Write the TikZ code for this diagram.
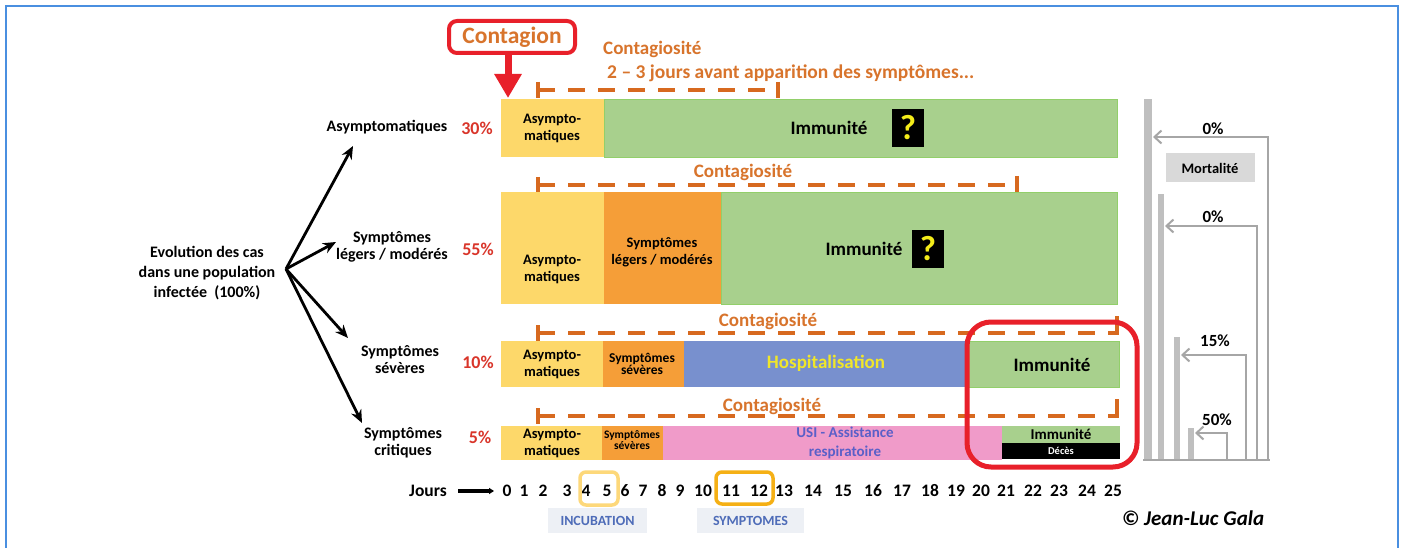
\documentclass[tikz,border=0pt]{standalone}
\usepackage{fontspec}
\setmainfont{Carlito}
\usetikzlibrary{arrows.meta}
\definecolor{frameblue}{HTML}{4A8FE0}
\definecolor{byellow}{HTML}{FDD86A}
\definecolor{borange}{HTML}{F59E38}
\definecolor{bgreen}{HTML}{A8D08D}
\definecolor{bgreenline}{HTML}{92CF6A}
\definecolor{bblue}{HTML}{7890CE}
\definecolor{bpink}{HTML}{F09BC9}
\definecolor{dashor}{HTML}{D7691F}
\definecolor{txtor}{HTML}{D8742C}
\definecolor{pctred}{HTML}{D9352A}
\definecolor{cred}{HTML}{E8202A}
\definecolor{qyellow}{HTML}{F4EC1A}
\definecolor{hospy}{HTML}{F0E62A}
\definecolor{usiblue}{HTML}{5A5FC8}
\definecolor{mgray}{HTML}{A6A6A6}
\definecolor{mbar}{HTML}{BFBFBF}
\definecolor{mbox}{HTML}{D9D9D9}
\definecolor{incbg}{HTML}{EDF0F5}
\definecolor{incblue}{HTML}{4E6CB8}
\definecolor{ylight}{HTML}{FDD87A}
\definecolor{ydark}{HTML}{F5B015}
\tikzset{
  lbl/.style={font=\fontsize{16}{17}\selectfont\bfseries, align=center, inner sep=0pt},
  pct/.style={font=\fontsize{18}{20}\selectfont\bfseries, text=pctred, inner sep=0pt},
  intxt/.style={font=\fontsize{14.5}{17}\selectfont\bfseries, align=center, inner sep=0pt},
  smalltxt/.style={font=\fontsize{13.5}{10.5}\selectfont\bfseries, align=center, inner sep=0pt},
  tinytxt/.style={font=\fontsize{11.5}{10.5}\selectfont\bfseries, align=center, inner sep=0pt},
  bigtxt/.style={font=\fontsize{19}{21}\selectfont\bfseries, align=center, inner sep=0pt},
  contag/.style={font=\fontsize{19}{21}\selectfont\bfseries, text=txtor, inner sep=0pt},
  dashl/.style={draw=dashor, line width=4pt, dash pattern=on 17pt off 13pt},
  tickl/.style={draw=dashor, line width=4pt},
  treearrow/.style={draw=black, line width=2.8pt, -{Stealth[length=13pt,width=11pt]}},
  marrow/.style={draw=mgray, line width=2pt, -{Straight Barb[length=7pt,width=13pt]}},
  mlabel/.style={font=\fontsize{17}{19}\selectfont\bfseries, inner sep=0pt},
  day/.style={font=\fontsize{17.5}{19}\selectfont\bfseries, inner sep=0pt},
  qbox/.style={fill=black, minimum width=32pt, minimum height=38pt, inner sep=0pt, text=qyellow, font=\fontsize{35}{35}\selectfont\bfseries},
  daybox/.style={draw, line width=3.5pt, rounded corners=6pt, inner sep=0pt},
  phase/.style={fill=incbg, inner sep=0pt, text=incblue, font=\fontsize{14}{16}\selectfont\bfseries}
}
\begin{document}
\begin{tikzpicture}[x=1pt,y=-1pt]
\useasboundingbox (0,0) rectangle (1405,548);
\fill[white] (0,0) rectangle (1405,548);
% frame
\draw[frameblue, line width=2pt] (6,548) -- (6,6) -- (1398,6) -- (1398,548);

% ---------- left tree ----------
\node[lbl, align=center, font=\fontsize{16}{20}\selectfont\bfseries] (evol) at (207,273) {Evolution des cas\\dans une population\\infectée\ \ (100\%)};
\coordinate (root) at (286,269);
\node[lbl] (asy) at (387,127) {Asymptomatiques};
\node[lbl] (leg) at (392,247) {Symptômes\\légers / modérés};
\node[lbl] (sev) at (400,360) {Symptômes\\sévères};
\node[lbl] (cri) at (403,443) {Symptômes\\critiques};
\coordinate (e1) at (353,146);
\coordinate (e2) at (336,242);
\coordinate (e3) at (348,338);
\coordinate (e4) at (362,423);
\draw[treearrow] (root) -- (e1);
\draw[treearrow] (root) -- (e2);
\draw[treearrow] (root) -- (e3);
\draw[treearrow] (root) -- (e4);
\node[pct] (p1) at (477,128) {30\%};
\node[pct] (p2) at (478,249) {55\%};
\node[pct] (p3) at (478,362) {10\%};
\node[pct] (p4) at (480,437) {5\%};

% ---------- contagion ----------
\node[draw=cred, line width=4pt, rounded corners=8pt, minimum width=126pt, minimum height=32pt, inner sep=0pt,
      text=txtor, font=\fontsize{23.5}{25}\selectfont\bfseries] (contagion) at (512,37) {Contagion};
\coordinate (ctip) at (508,98);
\draw[cred, line width=7pt, -{Triangle[length=24pt,width=26pt]}] (ctip |- contagion.south) -- (ctip);
\node[contag, anchor=west] (c1a) at (603,49) {Contagiosité};
\node[contag, anchor=west, font=\fontsize{19.5}{21}\selectfont\bfseries] (c1b) at (607,73) {2 -- 3 jours avant apparition des symptômes...};

% ---------- row 1 ----------
\fill[byellow] (501,99) rectangle (604,157);
\fill[bgreen] (604,99) rectangle (1117,157);
\draw[bgreenline, line width=0.8pt] (604,99) rectangle (1117,157);
\node[intxt] (r1a) at (552,128) {Asympto-\\matiques};
\node[bigtxt] (r1i) at (829,128) {Immunité};
\node[qbox] (q1) at (908,128) {?};
\draw[dashl] (538,90) -- (778,90);
\draw[tickl] (538,82) -- (538,98);
\draw[tickl] (778,82) -- (778,98);

% ---------- row 2 ----------
\node[contag] (c2) at (743,172) {Contagiosité};
\draw[dashl] (538,185) -- (1017,185);
\draw[tickl] (538,177) -- (538,193);
\draw[tickl] (1017,176) -- (1017,192);
\fill[byellow] (501,192) rectangle (604,304);
\fill[borange] (604,192) rectangle (721,304);
\fill[bgreen] (721,192) rectangle (1117,304);
\draw[bgreenline, line width=0.8pt] (721,192) rectangle (1117,304);
\node[intxt] (r2a) at (552,269) {Asympto-\\matiques};
\node[intxt] (r2s) at (662,252) {Symptômes\\légers / modérés};
\node[bigtxt] (r2i) at (864,249) {Immunité};
\node[qbox] (q2) at (928,249) {?};

% ---------- row 3 ----------
\node[contag] (c3) at (768,321) {Contagiosité};
\draw[dashl] (538,333) -- (1117,333);
\draw[tickl] (538,325) -- (538,341);
\draw[tickl] (1117,316) -- (1117,335);
\fill[byellow] (501,341) rectangle (603,387);
\fill[borange] (603,341) rectangle (684,387);
\fill[bblue] (684,341) rectangle (967,387);
\fill[bgreen] (967,341) rectangle (1119,387);
\draw[bgreenline, line width=0.8pt] (967,341) rectangle (1119,387);
\node[intxt] (r3a) at (552,364) {Asympto-\\matiques};
\node[smalltxt] (r3s) at (642,364) {Symptômes\\sévères};
\node[bigtxt, text=hospy] (r3h) at (826,363) {Hospitalisation};
\node[bigtxt] (r3i) at (1052,365) {Immunité};

% ---------- row 4 ----------
\node[contag] (c4) at (772,406) {Contagiosité};
\draw[dashl] (538,416) -- (1117,416);
\draw[tickl] (538,408) -- (538,424);
\draw[tickl] (1117,399) -- (1117,418);
\fill[byellow] (501,426) rectangle (602,460);
\fill[borange] (602,426) rectangle (663,460);
\fill[bpink] (663,426) rectangle (1002,460);
\fill[bgreen] (1002,426) rectangle (1120,443);
\fill[black] (1002,443) rectangle (1120,459);
\node[intxt] (r4a) at (552,443) {Asympto-\\matiques};
\node[tinytxt] (r4s) at (632,440) {Symptômes\\sévères};
\node[intxt, font=\fontsize{15}{19}\selectfont\bfseries, text=usiblue] (r4u) at (845,443) {USI - Assistance\\respiratoire};
\node[intxt, font=\fontsize{15}{17}\selectfont\bfseries] (r4i) at (1061,434) {Immunité};
\node[intxt, font=\fontsize{10.5}{12}\selectfont\bfseries, text=white] (r4d) at (1061,451) {Décès};

% red highlight
\draw[cred, line width=5pt, rounded corners=24pt] (967,322) rectangle (1137,467);

% ---------- mortality ----------
\fill[mbar] (1144,99) rectangle (1152,460);
\fill[mbar] (1158,194) rectangle (1164,460);
\fill[mbar] (1174,337) rectangle (1180,460);
\fill[mbar] (1188,428) rectangle (1194,460);
\draw[mgray, line width=2pt] (1143,460) -- (1270,460);
\coordinate (m1) at (1268,137);
\coordinate (m2) at (1257,226);
\coordinate (m3) at (1246,355);
\coordinate (m4) at (1227,433);
\coordinate (t1) at (1153,137);
\coordinate (t2) at (1165,226);
\coordinate (t3) at (1181,355);
\coordinate (t4) at (1195,433);
\draw[marrow] (m1 |- 0,460) -- (m1) -- (t1);
\draw[marrow] (m2 |- 0,460) -- (m2) -- (t2);
\draw[marrow] (m3 |- 0,460) -- (m3) -- (t3);
\draw[marrow] (m4 |- 0,460) -- (m4) -- (t4);
\node[mlabel] (ml1) at (1213,129) {0\%};
\node[fill=mbox, minimum width=89pt, minimum height=29pt, inner sep=0pt, font=\fontsize{14.5}{16}\selectfont\bfseries] (mort) at (1210,168) {Mortalité};
\node[mlabel] (ml2) at (1213,217) {0\%};
\node[mlabel] (ml3) at (1215,341) {15\%};
\node[mlabel] (ml4) at (1217,420) {50\%};

% ---------- days axis ----------
\node[day] (jours) at (428,491) {Jours};
\coordinate (ja) at (458,491);
\coordinate (jb) at (494,491);
\draw[black, line width=3.5pt, -{Triangle[length=5pt,width=6pt]}] (ja) -- (jb);
\foreach \d/\xx in {0/507,1/524,2/543,3/567,4/586,5/607,6/625,7/643,8/662,9/680,10/703,11/731,12/759,13/784,14/813,15/843,16/873,17/902,18/930,19/956,20/981,21/1006,22/1033,23/1059,24/1087,25/1113}
  \node[day] (d\d) at (\xx,491) {\d};
\node[daybox, draw=ylight, minimum width=38pt, minimum height=33pt] (b45) at (599,488.5) {};
\node[daybox, draw=ydark, minimum width=57pt, minimum height=32pt] (b1112) at (744.5,488) {};
\node[phase, minimum width=99pt, minimum height=25pt] (incub) at (597.5,520.5) {INCUBATION};
\node[phase, minimum width=107pt, minimum height=25pt] (sympt) at (750.5,520.5) {SYMPTOMES};

\node[font=\fontsize{21}{23}\selectfont\bfseries\itshape, inner sep=0pt] (credit) at (1193,518) {© Jean-Luc Gala};
\end{tikzpicture}
\end{document}
